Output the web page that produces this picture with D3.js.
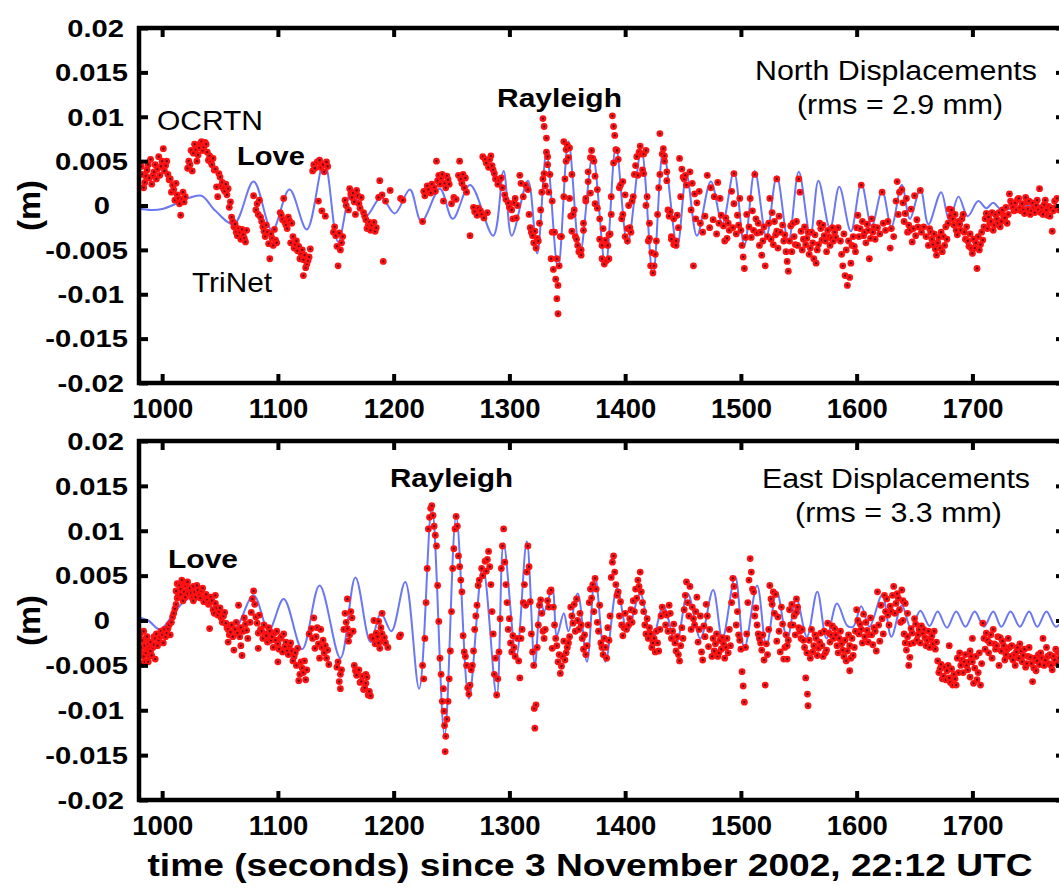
<!DOCTYPE html>
<html><head><meta charset="utf-8">
<script src="https://cdn.jsdelivr.net/npm/d3@7"></script>
<style>
html,body{margin:0;padding:0;background:#fff;overflow:hidden}
svg{display:block}
text{font-family:"Liberation Sans",Arial,Helvetica,sans-serif;fill:#000}
</style></head><body>
<svg id="chart" width="1059" height="892"></svg>
<script>
// ---------- data ----------
const xTicks = [1000,1100,1200,1300,1400,1500,1600,1700];
const yTicks = [-0.02,-0.015,-0.01,-0.005,0,0.005,0.01,0.015,0.02];
const yTickLabels = ["-0.02","-0.015","-0.01","-0.005","0","0.005","0.01","0.015","0.02"];
const xTitle = "time (seconds) since 3 November 2002, 22:12 UTC";
const yTitle = "(m)";

// TriNet (blue line) samples: [time s, displacement mm]
const northTriNet = [[979,-0.3],[990,-0.5],[1000,-0.4],[1012,0.2],[1022,0.8],[1034,1.1],[1046,-0.6],[1062,-2.1],[1079,2.7],[1095,-2.8],[1110,1.8],[1125,-2.7],[1140,5.0],[1152,-4.1],[1164,1.8],[1176,-1.2],[1189,0.9],[1201,-0.9],[1214,1.8],[1224,-1.8],[1240,1.9],[1251,-1.5],[1266,2.3],[1286,-3.4],[1295,3.9],[1302,-3.4],[1316,2.8],[1324,-5.4],[1332,5.9],[1342,-7.1],[1351,7.2],[1361,-5.4],[1372,5.6],[1383,-6.8],[1392,6.6],[1402,-4.3],[1414,6.2],[1424,-7.9],[1433,6.2],[1445,-4.6],[1453,3.5],[1462,-3.4],[1474,2.7],[1484,-2.0],[1494,3.8],[1503,-4.5],[1512,3.9],[1522,-3.5],[1531,3.3],[1541,-4.1],[1550,3.8],[1560,-3.4],[1567,2.8],[1577,-2.6],[1585,2.1],[1595,-2.9],[1604,2.5],[1613,-2.3],[1622,1.7],[1630,-2.4],[1639,2.3],[1646,-1.5],[1655,1.9],[1662,-2.1],[1673,1.5],[1680,-1.7],[1688,1.0],[1696,-1.2],[1705,0.5],[1712,-0.3],[1718,0.3],[1725,-0.5],[1740,-0.1],[1755,0.0],[1770,-0.2],[1780,-0.1]];

const eastTriNet = [[979,0.4],[988,0.0],[998,-1.0],[1008,0.4],[1018,2.0],[1030,2.8],[1044,1.3],[1061,-1.2],[1079,2.8],[1092,-1.1],[1105,2.4],[1121,-3.2],[1136,3.9],[1154,-4.2],[1167,4.8],[1180,-2.4],[1189,0.8],[1198,-1.2],[1210,4.3],[1222,-7.6],[1233,12.6],[1244,-12.8],[1254,11.6],[1265,-8.7],[1277,6.0],[1289,-8.4],[1295,8.6],[1306,-4.0],[1315,8.8],[1322,-5.0],[1327,2.1],[1330,1.0],[1337,3.6],[1341,-1.7],[1347,0.8],[1351,-1.2],[1359,3.0],[1367,-4.6],[1374,4.9],[1383,-4.6],[1393,3.6],[1402,-1.2],[1413,3.0],[1423,-2.3],[1433,1.6],[1444,-2.6],[1454,3.0],[1465,-2.0],[1476,3.4],[1484,-2.0],[1495,4.9],[1503,-3.1],[1514,3.9],[1522,-2.8],[1531,3.2],[1540,-2.0],[1548,2.4],[1557,-1.8],[1566,3.2],[1574,-2.0],[1583,1.9],[1592,-0.6],[1597,-0.7],[1604,1.6],[1611,-0.7],[1622,2.8],[1630,-1.8],[1639,1.7],[1647,-0.9],[1655,1.1],[1663,-0.6],[1670,1.0],[1678,-0.8],[1686,1.0],[1694,-0.7],[1702,1.0],[1710,-0.7],[1718,1.0],[1725,-0.7],[1733,1.0],[1741,-0.7],[1749,1.0],[1756,-0.7],[1764,1.0],[1772,-0.7],[1780,0.4]];

// OCRTN GPS (dots): [time s, displacement mm]
const northOCRTN = [[983,3.5],[985,2.6],[987,4.0],[989,3.1],[991,2.4],[993,3.8],[995,3.0],[990,5.2],[994,4.6],[997,5.5],[1001,6.4],[999,4.4],[1002,3.9],[1004,5.0],[1006,2.9],[1009,2.3],[1008,1.5],[1011,0.6],[1013,1.2],[1015,0.2],[1017,0.7],[1016,-1.1],[1022,4.2],[1026,3.9],[1025,6.2],[1028,6.9],[1031,5.7],[1034,7.2],[1036,6.6],[1038,6.9],[1040,5.1],[1043,4.6],[1046,4.1],[1049,3.6],[1047,2.1],[1048,1.0],[1051,2.2],[1054,1.6],[1057,1.9],[1058,-0.2],[1060,-1.3],[1062,-2.4],[1064,-3.0],[1066,-2.6],[1068,-3.8],[1070,-3.3],[1072,-4.1],[1079,1.1],[1082,0.2],[1084,0.6],[1083,-1.0],[1086,-1.8],[1088,-2.9],[1090,-2.2],[1089,-3.5],[1092,-4.3],[1094,-3.2],[1096,-4.5],[1098,-3.9],[1093,-6.0],[1102,-0.8],[1104,-1.6],[1107,-2.2],[1109,-1.3],[1112,-2.0],[1105,0.8],[1111,-4.2],[1114,-4.8],[1117,-5.1],[1120,-5.4],[1122,-6.1],[1125,-6.6],[1127,-5.8],[1122,-7.9],[1131,4.6],[1134,4.9],[1137,4.3],[1140,3.8],[1143,4.4],[1135,0.5],[1138,-0.6],[1141,-1.2],[1150,-3.4],[1151,-4.6],[1152,-6.8],[1149,-2.4],[1153,-3.1],[1155,-4.2],[1158,0.6],[1161,-0.5],[1164,0.9],[1167,-1.0],[1170,0.2],[1162,1.9],[1165,1.4],[1168,1.7],[1172,0.9],[1174,-0.8],[1176,-1.6],[1178,-2.2],[1180,-2.8],[1183,-1.9],[1185,-2.5],[1188,2.8],[1191,-6.3],[1187,0.9],[1190,1.2],[1193,0.5],[1197,1.7],[1206,0.8],[1208,0.6],[1225,-1.8],[1226,1.6],[1229,2.2],[1232,1.4],[1235,2.0],[1238,2.8],[1241,3.1],[1244,2.5],[1247,2.9],[1237,5.0],[1243,0.5],[1250,0.2],[1254,0.7],[1257,5.0],[1256,3.4],[1259,2.5],[1262,3.1],[1266,-3.4],[1269,-0.2],[1272,-1.1],[1275,-0.6],[1278,-1.4],[1281,-0.8],[1277,5.5],[1280,4.8],[1283,5.2],[1285,4.5],[1287,3.6],[1290,2.4],[1293,3.1],[1296,1.2],[1299,0.3],[1302,-0.5],[1305,0.8],[1309,3.4],[1303,-1.5],[1306,-1.4],[1318,-2.5],[1320,-3.4],[1322,-2.9],[1324,-3.7],[1326,-2.0],[1328,1.5],[1329,9.8],[1330,8.9],[1332,7.6],[1332,6.0],[1333,4.6],[1330,3.6],[1331,2.2],[1334,1.5],[1336,-6.0],[1337,-3.0],[1338,-7.2],[1340,-8.3],[1342,-9.0],[1341,-10.5],[1342,-12.2],[1344,-3.5],[1347,7.2],[1348,3.0],[1349,6.3],[1351,5.4],[1352,0.8],[1353,-1.2],[1354,-2.9],[1355,-1.0],[1357,-3.5],[1359,-4.5],[1362,-5.6],[1364,-2.0],[1366,0.5],[1371,6.2],[1373,5.0],[1368,2.7],[1370,1.4],[1374,0.2],[1376,1.8],[1378,-1.5],[1380,-4.5],[1381,-2.6],[1383,-3.9],[1385,-4.5],[1386,-6.0],[1387,-3.2],[1388,-1.0],[1389,10.1],[1390,8.9],[1391,7.9],[1393,6.2],[1395,2.0],[1397,-1.5],[1398,2.7],[1400,1.2],[1403,0.0],[1402,-2.6],[1405,-3.0],[1407,1.0],[1409,4.5],[1411,3.4],[1413,6.7],[1415,4.0],[1416,5.8],[1418,6.2],[1419,1.0],[1421,-3.7],[1421,-2.0],[1423,-5.3],[1425,-6.8],[1427,-4.0],[1429,2.0],[1430,8.1],[1433,6.4],[1434,5.0],[1436,3.8],[1437,-0.5],[1439,-0.7],[1440,-3.5],[1442,-1.5],[1444,-4.0],[1445,-1.1],[1447,5.3],[1449,4.1],[1451,3.0],[1453,2.3],[1456,3.8],[1458,2.5],[1460,1.3],[1462,0.3],[1464,1.6],[1459,-6.8],[1471,3.4],[1474,2.0],[1477,1.0],[1480,2.6],[1482,0.8],[1483,-1.1],[1485,-2.3],[1488,-3.7],[1490,-2.8],[1492,1.6],[1494,3.6],[1494,0.2],[1497,-1.1],[1499,0.8],[1501,-4.5],[1502,-5.8],[1503,-7.1],[1508,0.8],[1510,-0.6],[1512,3.5],[1513,-1.5],[1516,-4.5],[1518,-5.6],[1521,-6.8],[1525,0.8],[1527,-0.8],[1529,-1.8],[1531,3.0],[1531,-2.9],[1533,-1.2],[1539,-5.2],[1540,-6.3],[1541,-7.4],[1543,-2.3],[1546,-3.5],[1549,-4.5],[1552,-2.9],[1554,-3.8],[1550,3.0],[1551,1.5],[1557,-3.7],[1560,-4.8],[1563,-6.0],[1566,-5.0],[1569,-2.6],[1572,-3.4],[1575,-2.8],[1578,-3.7],[1581,-3.0],[1574,-5.2],[1588,-6.8],[1590,-7.9],[1592,-9.0],[1594,-8.1],[1596,-4.5],[1599,-5.2],[1601,-1.1],[1603,-2.6],[1604,2.3],[1606,-3.4],[1609,-2.1],[1612,-3.7],[1615,-2.4],[1611,-6.0],[1622,1.5],[1629,-4.8],[1635,2.7],[1637,1.5],[1640,0.3],[1642,-0.9],[1645,-2.2],[1647,-0.4],[1650,1.1],[1652,-1.6],[1644,-3.0],[1648,-4.1],[1651,-3.4],[1655,1.7],[1663,-2.6],[1665,-3.8],[1668,-4.9],[1670,-4.2],[1673,-3.0],[1674,-5.2],[1680,-0.4],[1683,-1.5],[1686,-2.8],[1689,-2.1],[1692,-1.0],[1694,-3.8],[1697,-4.6],[1700,-5.4],[1703,-4.2],[1706,-5.0],[1709,-3.9],[1704,-7.1],[1712,-0.9],[1715,-2.0],[1718,-2.8],[1721,-1.5],[1724,-2.4],[1727,-1.2],[1730,-2.0],[1732,1.3],[1734,0.2],[1736,-0.6],[1739,0.7],[1741,-0.3],[1744,-0.5],[1747,0.4],[1750,-1.0],[1753,-0.2],[1756,0.6],[1759,-0.8],[1762,0.1],[1765,-1.1],[1768,-0.3],[1771,0.5],[1758,1.9],[1769,-2.9],
[982,4.4],[984,2.0],[986,3.3],[988,4.6],[992,3.4],[996,4.1],[998,3.4],[1000,5.0],[1003,4.5],[1005,3.5],[1007,3.0],[1010,1.8],[1012,2.5],[1014,0.8],[1018,1.5],[1019,0.4],[1020,1.0],[1023,5.0],[1024,4.6],[1027,5.9],[1029,6.3],[1030,5.0],[1032,6.5],[1033,7.0],[1035,6.2],[1037,7.1],[1039,6.0],[1041,5.6],[1042,4.9],[1044,5.3],[1045,4.0],[1050,3.2],[1052,2.6],[1053,1.9],[1055,2.4],[1056,1.2],[1059,0.4],[1061,-1.8],[1063,-2.1],[1065,-3.4],[1067,-3.0],[1069,-2.7],[1071,-3.7],[1073,-2.8],
[1081,-0.5],[1085,-1.3],[1087,-2.4],[1091,-3.0],[1095,-3.7],[1097,-2.7],[1099,-4.2],[1103,-1.1],[1106,-1.9],[1108,-2.6],[1110,-1.7],[1113,-3.5],[1115,-4.4],[1116,-4.0],[1118,-4.6],[1119,-6.0],[1121,-5.0],[1123,-5.6],[1124,-7.0],[1126,-6.2],[1128,-4.9],[1130,3.9],[1132,4.2],[1136,5.1],[1139,4.6],[1142,4.9],
[1148,-3.0],[1154,-5.0],[1156,-3.5],[1159,0.0],[1163,1.3],[1166,0.4],[1169,1.1],[1171,-0.3],[1175,-1.2],[1177,-2.6],[1179,-1.9],[1181,-2.2],[1184,-2.9],
[1227,1.1],[1230,1.8],[1233,2.4],[1236,1.6],[1239,3.4],[1240,2.4],[1242,3.5],[1245,2.0],[1246,3.3],[1248,2.4],[1252,0.9],[1258,3.0],[1260,3.5],[1261,2.0],[1263,1.5],[1270,-0.7],[1273,-0.3],[1276,-1.0],[1279,5.2],[1282,4.3],[1284,5.6],[1286,4.0],[1288,3.0],[1291,2.9],[1294,2.0],[1297,0.7],[1300,-0.2],[1304,0.3],[1307,0.0],[1310,2.5],[1312,1.0],[1314,2.3],[1316,1.8],
[1317,-1.0],[1319,-3.0],[1321,-4.2],[1323,-4.8],[1325,-4.0],[1327,-0.5],[1329,3.0],
[1333,5.5],[1335,3.5],[1337,0.5],[1339,-3.0],[1341,-6.0],[1343,-6.8],[1345,-3.5],[1347,1.0],[1349,5.0],[1350,6.8],[1352,6.5],[1354,3.5],[1356,-0.5],[1358,-3.8],[1360,-5.2],[1362,-5.0],[1364,-2.8],[1366,0.8],[1368,3.8],[1370,5.4],[1372,5.3],[1374,3.3],[1376,-0.3],[1378,-3.8],[1380,-6.0],[1382,-6.6],[1384,-6.2],[1386,-3.3],[1388,1.0],[1390,4.8],[1392,6.3],[1394,5.2],[1396,2.3],[1398,-1.0],[1400,-3.5],[1402,-4.0],[1404,-2.5],[1406,0.5],[1408,3.5],[1410,5.5],[1412,6.0],[1414,5.8],[1416,3.6],[1418,0.0],[1420,-4.0],[1422,-6.8],[1424,-7.6],[1426,-5.5],[1428,-1.0],[1430,3.5],[1432,5.8],[1434,5.6],[1436,2.8],[1438,-1.2],[1440,-3.8],[1442,-4.4],[1444,-4.5],[1446,-2.5],[1448,1.0],[1450,3.2],[1452,3.4],
[1457,-0.5],[1461,-1.5],[1465,-2.0],[1467,-3.0],[1469,-1.2],[1473,-2.5],[1476,-1.6],[1479,-3.2],[1481,-2.0],[1486,-4.0],[1487,-1.4],[1489,-2.0],[1493,-2.5],[1496,-3.2],[1498,-2.2],[1500,-2.8],[1504,-3.6],[1505,-1.0],[1507,-2.4],[1509,-3.6],[1511,-2.8],[1514,-3.1],[1515,-2.0],[1517,-3.0],[1519,-4.0],[1520,-2.4],[1523,-3.5],[1524,-2.0],[1526,-3.8],[1528,-4.4],[1530,-3.3],[1532,-4.8],[1534,-3.0],[1536,-2.2],[1537,-4.0],[1538,-3.3],[1542,-4.0],[1544,-5.2],[1545,-2.0],[1547,-4.4],[1548,-1.8],[1553,-5.0],[1555,-2.4],[1556,-4.4],[1558,-3.0],[1559,-5.5],[1561,-3.0],[1562,-4.2],[1564,-3.3],[1565,-6.5],[1567,-4.4],[1568,-2.0],[1570,-3.9],[1571,-2.2],[1573,-4.0],[1576,-3.5],[1577,-4.5],[1579,-2.5],[1580,-4.0],[1582,-3.6],[1584,-2.5],[1586,-4.0],[1587,-5.5],[1589,-3.2],[1591,-5.0],[1593,-4.0],[1595,-6.5],[1597,-3.5],[1598,-4.6],[1600,-2.5],[1602,-3.5],[1605,-1.8],[1607,-3.0],[1608,-4.2],[1610,-2.8],[1613,-1.5],[1614,-3.0],[1616,-3.8],[1618,-2.5],[1620,-3.2],[1623,-2.0],[1625,-2.8],[1627,-1.8],[1630,-2.6],[1632,-3.5],[1634,0.5],[1636,-1.0],[1639,1.8],[1641,-1.8],[1643,0.8],[1646,-2.8],[1649,-2.6],[1653,-2.4],[1656,-3.0],[1658,-2.4],[1660,-3.5],[1662,-4.5],[1664,-3.0],[1666,-4.4],[1667,-3.2],[1669,-5.6],[1671,-3.6],[1672,-4.8],[1675,-3.5],[1676,-4.5],[1677,-2.4],[1678,-3.8],[1679,-2.0],[1681,-1.2],[1682,-0.5],[1684,-2.2],[1685,-1.0],[1687,-3.3],[1688,-1.8],[1690,-2.8],[1691,-1.5],[1693,-3.0],[1695,-2.4],[1696,-4.0],[1698,-3.2],[1699,-4.8],[1701,-3.8],[1702,-4.8],[1705,-3.5],[1707,-4.4],[1708,-3.0],[1710,-2.4],[1711,-1.5],[1713,-2.6],[1714,-1.3],[1716,-1.8],[1717,-0.8],[1719,-2.2],[1720,-1.0],[1722,-2.0],[1723,-0.8],[1725,-1.8],[1726,-0.5],[1728,-1.4],[1729,-0.2],[1731,-1.0],[1733,0.5],[1735,-0.2],[1737,0.3],[1738,-0.5],[1740,0.8],[1742,-0.6],[1743,0.2],[1745,-0.9],[1746,0.9],[1748,-0.4],[1749,0.5],[1751,-0.6],[1752,0.3],[1754,-0.8],[1755,0.0],[1757,-0.5],[1760,-0.2],[1761,-1.0],[1763,0.6],[1764,-0.5],[1766,-0.1],[1767,-1.2],[1770,-0.6],[1772,-0.2],[1773,0.8],[1775,-0.5],[1777,-0.1]];

const eastOCRTN = [[981,-1.5],[982,-3.0],[983,-2.2],[984,-4.0],[985,-2.8],[986,-3.6],[987,-1.8],[988,-4.6],[989,-3.1],[990,-2.4],[991,-3.9],[993,-2.7],[994,-4.3],[995,-1.5],[997,-2.2],[999,-1.2],[1001,-2.5],[1003,-1.8],[1005,-0.9],[1007,-1.6],[1008,-0.2],[1010,0.8],[1012,1.8],[1014,2.8],[1016,3.5],[1018,2.2],[1020,3.9],[1022,3.0],[1013,4.1],[1017,4.5],[1021,4.2],[1024,3.6],[1026,2.5],[1028,3.2],[1030,3.9],[1032,2.8],[1034,3.3],[1036,2.1],[1038,2.9],[1040,1.8],[1042,2.6],[1044,1.2],[1046,1.9],[1048,0.6],[1050,1.4],[1052,-0.2],[1054,0.9],[1056,-0.8],[1058,-1.6],[1060,-0.5],[1046,2.8],[1041,-0.9],[1057,-2.4],[1062,-3.3],[1066,1.7],[1064,-0.2],[1068,-0.8],[1071,0.3],[1073,-1.1],[1068,-2.8],[1069,-3.9],[1079,3.3],[1077,0.9],[1080,1.8],[1082,-0.3],[1084,0.6],[1086,-1.2],[1088,-0.5],[1085,-1.0],[1090,-1.7],[1093,-1.2],[1083,-3.1],[1094,-2.2],[1097,-1.4],[1100,-2.6],[1103,-1.8],[1106,-2.9],[1100,-4.6],[1108,-3.4],[1111,-2.5],[1114,-4.0],[1117,-3.1],[1116,-5.0],[1119,-6.0],[1121,-5.3],[1124,-6.6],[1118,-6.7],[1129,-0.9],[1131,0.3],[1133,-1.8],[1135,-2.6],[1137,-1.0],[1139,-2.2],[1132,-3.1],[1136,-4.2],[1140,-3.6],[1144,-4.9],[1152,-4.6],[1154,-6.0],[1153,-6.8],[1154,-7.6],[1158,0.8],[1160,-0.9],[1161,-2.3],[1160,2.4],[1163,1.0],[1165,-1.2],[1166,-5.0],[1168,-6.1],[1170,-5.5],[1172,-6.8],[1175,-7.5],[1177,-6.3],[1179,-7.9],[1178,-8.3],[1169,-5.6],[1171,-6.9],[1174,-7.7],[1176,-6.0],[1180,-8.4],[1181,-1.8],[1184,-2.6],[1188,-3.1],[1191,-2.2],[1195,-3.0],[1187,-0.1],[1190,0.8],[1183,0.0],[1185,-1.4],[1187,-2.5],[1189,-0.8],[1192,-1.9],[1205,-1.8],[1206,-1.6],[1225,-5.0],[1229,5.8],[1230,10.2],[1233,12.8],[1234,11.7],[1237,8.3],[1238,3.9],[1239,-0.1],[1240,-4.2],[1243,-7.6],[1243.5,-10.1],[1244,-11.7],[1245,-12.9],[1244.5,-14.6],[1247,-9.0],[1249,-3.4],[1250,1.0],[1251,5.8],[1253,10.2],[1254,11.6],[1256,7.2],[1259,3.2],[1260,-1.7],[1263,-5.0],[1266,-7.2],[1269,-3.4],[1272,1.7],[1273,3.9],[1279,6.6],[1282,7.7],[1285,1.0],[1288,-4.2],[1289,-8.3],[1292,0.2],[1293,5.8],[1294,8.3],[1295,10.2],[1300,0.2],[1303,-1.7],[1309,-6.4],[1314,1.7],[1315,5.4],[1316,8.3],[1318,2.1],[1321,-5.0],[1321.5,-9.8],[1322,-12.0],[1323,-9.4],[1326,1.7],[1329,-1.2],[1335,3.2],[1337,-3.1],[1340,-2.0],[1343,-3.8],[1345,-5.1],[1348,-4.4],[1350,-3.0],[1352,-1.8],[1344,-5.9],[1353,1.5],[1355,-0.3],[1358,2.4],[1361,0.8],[1367,-2.8],[1374,4.7],[1378,1.7],[1384,-4.2],[1390,7.2],[1391,5.4],[1396,2.1],[1398,-1.7],[1404,0.2],[1413,5.4],[1414,3.2],[1419,0.2],[1421,-0.8],[1424,-2.5],[1427,-1.2],[1429,-3.4],[1438,1.7],[1441,-1.2],[1444,-3.4],[1447,-4.5],[1450,-2.0],[1453,4.3],[1456,3.8],[1458,1.5],[1460,-0.5],[1462,2.6],[1465,0.5],[1468,-0.6],[1470,1.8],[1463,-2.4],[1466,-3.5],[1469,-1.8],[1472,-2.9],[1475,-4.0],[1478,-2.6],[1481,-3.6],[1484,-1.9],[1487,-3.0],[1467,-4.4],[1493,4.7],[1495,2.8],[1497,1.0],[1500,-3.2],[1501,-5.7],[1502,-7.3],[1503,-9.1],[1508,6.9],[1509,5.4],[1511,3.2],[1513,1.4],[1516,-2.0],[1518,-3.3],[1520,-4.4],[1521,-7.2],[1525,3.9],[1527,1.8],[1530,2.9],[1532,0.4],[1535,1.5],[1531,-2.3],[1534,-3.5],[1537,-4.3],[1540,-2.8],[1540,-4.3],[1542,1.2],[1545,-0.5],[1548,0.9],[1551,-1.2],[1548,2.4],[1554,-2.2],[1557,-3.6],[1560,-4.2],[1563,-2.8],[1566,-3.9],[1556,-6.4],[1557.5,-8.2],[1558,-9.5],[1561,-1.0],[1565,-2.0],[1569,-1.4],[1567,-3.1],[1571,-4.0],[1574,-3.3],[1575,-0.3],[1578,-1.6],[1581,-0.9],[1585,-2.0],[1588,-3.3],[1591,-4.5],[1594,-2.8],[1597,-3.9],[1594,-5.6],[1600,1.2],[1603,-0.4],[1606,0.7],[1609,-1.1],[1612,0.3],[1615,-0.8],[1611,-1.6],[1614,-2.7],[1617,-3.4],[1620,-2.3],[1623,-1.5],[1618,3.2],[1621,1.7],[1624,2.8],[1627,0.6],[1626,2.4],[1630,1.0],[1634,1.9],[1632,3.8],[1636,2.5],[1639,3.4],[1642,1.9],[1641,-1.5],[1643,-3.3],[1645,-5.0],[1646,-4.1],[1644,0.8],[1647,-0.9],[1650,0.2],[1653,-1.6],[1656,-0.6],[1659,-1.9],[1657,-1.4],[1661,-2.2],[1665,-1.7],[1669,-2.4],[1672,-5.4],[1675,-6.2],[1678,-5.6],[1681,-6.9],[1684,-6.0],[1686,-7.2],[1683,-7.2],[1687,-4.2],[1690,-5.0],[1693,-4.6],[1696,-5.5],[1699,-4.0],[1702,-5.3],[1680,-2.8],[1698,-6.3],[1701,-7.0],[1704,-6.6],[1707,-7.2],[1700,-2.0],[1709,-0.3],[1712,-1.4],[1715,-2.5],[1718,-1.0],[1721,-2.8],[1724,-1.9],[1714,-3.6],[1717,-4.2],[1720,-3.2],[1723,-5.0],[1726,-2.3],[1729,-3.8],[1732,-3.0],[1735,-4.4],[1738,-3.5],[1741,-2.6],[1744,-3.9],[1747,-4.8],[1750,-4.1],[1753,-5.3],[1756,-4.5],[1759,-3.6],[1762,-5.0],[1752,-6.8],[1765,-4.0],[1768,-5.0],[1771,-4.4],[1774,-3.5],[1761,-2.0],
[980,-2.0],[981,-3.5],[982,-4.8],[983,-3.8],[984,-1.2],[985,-4.6],[986,-2.0],[987,-3.2],[988,-2.6],[989,-4.0],[990,-3.4],[992,-3.0],[993,-1.8],[994,-2.0],[996,-2.8],[998,-1.8],[1000,-1.6],[1002,-1.0],[1004,-1.4],[1006,-0.5],[1009,0.4],[1011,1.3],[1012,3.3],[1013,2.5],[1015,3.9],[1016,2.9],[1018,4.0],[1019,3.2],[1020,2.6],[1022,4.3],[1023,3.5],[1025,3.1],[1027,3.8],[1027,2.2],[1029,2.6],[1031,3.4],[1033,2.5],[1035,3.6],[1037,2.6],[1039,2.3],[1041,2.0],[1043,2.2],[1045,0.8],[1047,1.4],[1049,1.0],[1051,0.3],[1053,0.5],[1055,-0.3],[1057,-1.0],[1059,-1.3],[1061,-1.8],[1063,-1.0],[1065,-1.4],[1067,-1.8],[1070,-1.2],[1072,-0.4],[1074,-2.0],
[1076,-0.2],[1078,2.4],[1081,0.4],[1083,-1.4],[1087,-2.0],[1089,-1.5],[1091,-2.4],[1092,-0.8],[1095,-1.8],[1096,-3.0],[1098,-2.2],[1099,-1.2],[1101,-3.2],[1102,-2.0],[1104,-3.5],[1105,-1.5],[1107,-2.4],[1109,-3.8],[1110,-2.8],[1112,-3.4],[1113,-4.5],[1115,-3.6],[1120,-4.6],[1122,-5.8],[1123,-4.5],[1125,-5.5],
[1127,-1.5],[1130,-2.0],[1134,-0.8],[1138,-3.0],[1141,-2.8],[1142,-4.2],[1143,-3.3],[1151,-5.2],[1155,-5.5],[1157,-1.0],[1159,-0.2],[1162,-1.6],[1164,0.3],[1167,-5.6],[1173,-6.2],[1176,-7.0],[1182,-2.0],[1186,-1.8],[1190,-1.5],[1193,-2.5],
[1226,-6.5],[1227,-2.0],[1228,2.0],[1231,11.5],[1232,12.5],[1235,10.5],[1236,9.5],[1241,-6.0],[1242,-9.0],[1246,-11.0],[1248,-6.5],[1252,8.0],[1255,10.5],[1257,6.0],[1258,4.5],[1261,-3.5],[1262,-4.0],[1264,-7.5],[1265,-8.2],[1267,-5.5],[1268,-5.0],[1270,-1.0],[1271,0.5],[1274,4.5],[1276,5.8],[1277,5.0],[1280,5.5],[1281,6.8],[1283,6.0],[1284,4.0],[1286,-1.5],[1287,-6.0],[1290,-6.5],[1291,-3.5],[1296,6.5],[1297,4.0],[1298,2.0],[1299,-1.0],[1301,-2.5],[1302,-3.5],[1304,-3.0],[1305,-4.0],[1307,-2.0],[1308,-4.5],[1310,-2.0],[1311,-1.0],[1312,2.0],[1313,4.0],[1317,6.0],[1319,-1.5],[1320,-3.5],[1324,-3.0],[1325,-0.5],[1327,2.3],[1328,0.8],[1330,-2.0],[1331,-1.0],[1333,2.2],[1334,1.5],[1336,3.4],[1338,1.5],[1339,-0.5],
[1341,-2.8],[1342,-4.6],[1346,-4.0],[1347,-2.3],[1349,-3.6],[1351,-2.5],[1354,0.5],[1356,1.8],[1357,-1.2],[1359,0.0],[1360,-1.0],[1362,-0.5],[1363,-2.0],[1364,-3.2],[1365,-1.6],[1366,-3.8],[1368,-0.5],[1369,2.0],[1370,3.5],[1371,2.5],[1372,4.0],[1373,1.0],[1375,3.5],[1376,-0.2],[1377,-1.2],[1379,-2.5],[1380,-3.0],[1381,-3.8],[1382,-2.0],[1383,-3.0],[1385,-0.8],[1386,-2.2],[1387,0.5],[1388,4.8],[1389,6.5],[1392,4.0],[1393,2.8],[1394,3.2],[1395,0.5],[1397,-0.5],[1399,-0.8],[1400,0.8],[1401,-1.0],[1403,-0.5],[1405,1.2],[1406,-0.2],[1407,2.2],[1408,1.0],[1409,3.5],[1410,2.5],[1411,4.5],[1412,3.8],[1415,2.0],[1416,1.0],[1417,-0.5],[1418,-1.5],[1420,-2.0],[1422,-1.5],[1423,-3.0],[1425,-2.0],[1426,-3.5],[1428,-2.5],[1430,-1.0],[1431,0.5],[1432,1.5],[1434,0.8],[1435,-0.5],[1436,0.6],[1437,-1.2],[1439,0.8],[1440,-2.0],[1442,-0.4],[1443,-2.5],[1445,-1.8],[1446,-3.8],[1448,-2.8],[1449,-0.8],[1451,1.2],[1452,2.8],[1454,2.0],[1455,0.5],[1457,-1.0],[1459,0.2],[1461,1.0],[1464,-1.0],[1471,0.5],[1473,-1.0],[1476,-2.0],[1477,-3.4],[1479,-1.5],[1480,-4.0],[1482,-2.2],[1483,-3.2],[1485,-2.6],[1486,-4.2],[1488,-2.0],[1489,-3.6],[1490,-1.0],[1491,-2.8],[1492,2.0],[1494,3.8],[1496,-0.5],[1498,-1.6],[1499,-2.2],
[1504,-3.0],[1505,-1.5],[1506,2.0],[1507,4.5],[1510,3.5],[1512,0.5],[1514,-0.5],[1515,-1.5],[1517,-2.5],[1519,-1.6],[1522,-2.6],[1523,-3.8],[1524,-1.0],[1526,2.4],[1528,3.2],[1529,0.8],[1533,-1.2],[1536,-0.4],[1538,-3.0],[1539,-1.6],[1541,-2.2],[1543,-0.5],[1544,1.8],[1546,0.5],[1547,-1.6],[1549,1.5],[1550,-0.8],[1552,-2.0],[1553,-1.0],[1555,-3.0],[1559,-2.2],[1562,-3.5],[1564,-1.6],[1568,-2.4],[1570,-2.8],[1572,-1.2],[1573,-3.6],[1576,-1.4],[1577,-2.4],[1579,-0.6],[1580,-2.0],[1582,-1.6],[1583,-2.8],[1584,-3.6],[1586,-1.2],[1587,-2.6],[1589,-4.0],[1590,-2.2],[1592,-3.4],[1593,-1.6],[1595,-4.2],[1596,-2.0],[1598,-3.0],[1599,-1.2],[1601,0.0],[1602,-1.5],[1604,-1.0],[1605,-2.5],[1607,-1.8],[1608,-0.2],[1610,-2.4],[1613,-1.6],[1616,-1.2],[1619,-0.5],[1622,0.2],[1625,1.0],[1628,-0.5],[1629,1.6],[1631,2.8],[1633,0.8],[1635,3.0],[1637,1.2],[1638,-0.2],[1640,2.2],[1640,0.0],[1642,-2.5],[1644,-1.8],[1646,-2.6],[1648,-1.4],[1649,-2.5],[1651,-0.4],[1652,-2.2],[1654,-1.0],[1655,-2.5],[1658,-1.0],[1660,-2.8],[1662,-1.2],[1663,-3.0],[1664,-2.0],[1666,-2.6],[1667,-1.2],[1668,-3.2],
[1670,-4.5],[1671,-5.8],[1673,-4.9],[1674,-6.5],[1676,-5.2],[1677,-6.6],[1679,-5.0],[1680,-6.4],[1682,-5.4],[1685,-6.5],[1688,-5.8],[1689,-3.6],[1691,-4.4],[1692,-5.8],[1694,-3.8],[1695,-5.0],[1697,-4.6],[1698,-3.4],[1700,-4.6],[1703,-4.0],[1705,-5.8],[1706,-3.6],[1708,-4.8],[1710,-2.0],[1711,-3.2],[1713,-2.2],[1716,-1.6],[1719,-2.6],[1722,-1.8],[1725,-3.4],[1727,-2.8],[1728,-4.4],[1730,-3.2],[1731,-2.0],[1733,-4.0],[1734,-2.8],[1736,-3.8],[1737,-5.0],[1739,-3.0],[1740,-4.2],[1742,-3.4],[1743,-4.6],[1745,-3.2],[1746,-5.2],[1748,-4.0],[1749,-3.0],[1751,-4.8],[1754,-4.2],[1755,-5.6],[1757,-3.8],[1758,-4.9],[1760,-4.2],[1763,-4.4],[1764,-3.0],[1766,-4.8],[1767,-3.8],[1769,-5.5],[1770,-4.0],[1772,-3.2],[1773,-4.8],[1775,-4.2],[1776,-3.4],[1778,-4.4]];

// ---------- layout ----------
const svg = d3.select("#chart");
const X0 = 139, X1 = 1065;
const x = d3.scaleLinear().domain([980, 1780]).range([X0, X1]);

function annotate(g, a) {
  g.append("text")
    .attr("x", a.x).attr("y", a.y)
    .attr("font-size", a.size).attr("font-weight", a.bold ? 700 : 400)
    .attr("textLength", a.len).attr("lengthAdjust", "spacingAndGlyphs")
    .text(a.text);
}

function drawPanel(cfg) {
  const y = d3.scaleLinear().domain([-0.02, 0.02]).range([cfg.bottom, cfg.top]);
  const g = svg.append("g");
  const clipId = "clip-" + cfg.id;
  svg.append("clipPath").attr("id", clipId).append("rect")
    .attr("x", X0).attr("y", cfg.top).attr("width", X1 - X0).attr("height", cfg.bottom - cfg.top);
  const plot = g.append("g").attr("clip-path", `url(#${clipId})`);

  const line = d3.line().x(d => x(d[0])).y(d => y(d[1] / 1000)).curve(d3.curveCatmullRom.alpha(0.5));
  plot.append("path").datum(cfg.line).attr("d", line)
    .attr("fill", "none").attr("stroke", "#6b78f2").attr("stroke-width", 2);

  // each GPS sample: red marker with a small dark core, drawn in time order
  const dots = cfg.dots.slice().sort((a, b) => a[0] - b[0]);
  const dot = plot.selectAll("g.gps").data(dots).join("g").attr("class", "gps")
    .attr("transform", d => `translate(${x(d[0])},${y(d[1] / 1000)})`);
  dot.append("circle").attr("r", 3.4).attr("fill", "#ff1212");
  dot.append("circle").attr("r", 1.15).attr("fill", "#2a0520").attr("opacity", 0.75);

  // axes with inward ticks
  const sy = 1.27;
  const left = g.append("g").attr("transform", `translate(${X0},0)`)
    .call(d3.axisLeft(y).tickValues(yTicks).tickSize(-9).tickFormat((d, i) => yTickLabels[i]));
  left.select(".domain").remove();
  left.selectAll("line").attr("stroke-width", 4);
  left.selectAll("text")
    .attr("font-size", 23).attr("font-weight", 700)
    .attr("x", d => {
      const lab = yTickLabels[yTicks.indexOf(d)];
      let off = -11;
      if (lab === "0") off = -29;
      else if (/[12]$/.test(lab)) off = -15;
      return off / sy;
    })
    .attr("dy", "0.36em")
    .attr("transform", `scale(${sy},1)`);

  const right = g.append("g").attr("transform", `translate(${X1},0)`)
    .call(d3.axisRight(y).tickValues(yTicks).tickSize(-9).tickFormat(""));
  right.select(".domain").remove();
  right.selectAll("line").attr("stroke-width", 4);

  const topAx = g.append("g").attr("transform", `translate(0,${cfg.top})`)
    .call(d3.axisTop(x).tickValues(xTicks).tickSize(-9).tickFormat(""));
  topAx.select(".domain").remove();
  topAx.selectAll("line").attr("stroke-width", 4);

  const sx = 0.98;
  const bot = g.append("g").attr("transform", `translate(0,${cfg.bottom})`)
    .call(d3.axisBottom(x).tickValues(xTicks).tickSize(-9).tickFormat(d3.format("d")));
  bot.select(".domain").remove();
  bot.selectAll("line").attr("stroke-width", 4);
  bot.selectAll("text").attr("font-size", 28).attr("font-weight", 700)
    .attr("y", 35).attr("dy", 0).attr("transform", `scale(${sx},1)`);

  // frame
  g.append("rect").attr("x", X0).attr("y", cfg.top).attr("width", X1 - X0).attr("height", cfg.bottom - cfg.top)
    .attr("fill", "none").attr("stroke", "#000").attr("stroke-width", 4.5);

  // y title
  g.append("text").attr("transform", `translate(29,${y(0)}) rotate(-90)`)
    .attr("text-anchor", "middle").attr("dy", "0.35em")
    .attr("font-size", 32).attr("font-weight", 700)
    .attr("textLength", 51).attr("lengthAdjust", "spacingAndGlyphs")
    .text(yTitle);

  cfg.notes.forEach(a => annotate(g, a));
}

drawPanel({
  id: "north", top: 28, bottom: 383, line: northTriNet, dots: northOCRTN,
  notes: [
    {text: "OCRTN", x: 157, y: 130, size: 28, len: 106},
    {text: "Love", x: 237, y: 165, size: 25, bold: true, len: 68},
    {text: "TriNet", x: 192, y: 292, size: 28, len: 80},
    {text: "Rayleigh", x: 497, y: 107, size: 26, bold: true, len: 125},
    {text: "North Displacements", x: 755, y: 80, size: 27, len: 282},
    {text: "(rms = 2.9 mm)", x: 797, y: 114, size: 27, len: 206}
  ]
});
drawPanel({
  id: "east", top: 441, bottom: 800, line: eastTriNet, dots: eastOCRTN,
  notes: [
    {text: "Love", x: 168, y: 568, size: 25, bold: true, len: 70},
    {text: "Rayleigh", x: 390, y: 487, size: 26, bold: true, len: 123},
    {text: "East Displacements", x: 762, y: 488, size: 27, len: 268},
    {text: "(rms = 3.3 mm)", x: 795, y: 522, size: 27, len: 207}
  ]
});

svg.append("text").attr("x", 590).attr("y", 876).attr("text-anchor", "middle")
  .attr("font-size", 31).attr("font-weight", 700)
  .attr("textLength", 885).attr("lengthAdjust", "spacingAndGlyphs")
  .text(xTitle);
</script>
</body></html>
